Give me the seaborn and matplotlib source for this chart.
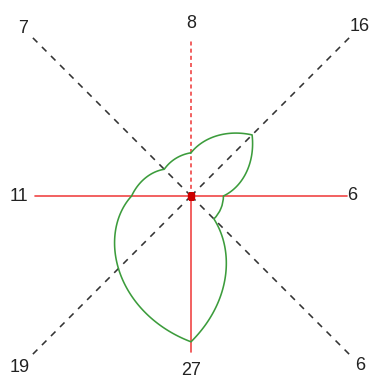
import numpy as np
import pandas as pd
import seaborn as sns
import matplotlib
matplotlib.use('Agg')
import matplotlib.pyplot as plt

sns.set_theme(style='white')
plt.rcParams['font.family'] = ['Liberation Sans', 'DejaVu Sans']

# wind directions, clockwise from north, and the count for each one
directions = ['N', 'NE', 'E', 'SE', 'S', 'SW', 'W', 'NW']
counts = [8, 16, 6, 6, 27, 19, 11, 7]

angles = np.deg2rad(np.arange(0, 360, 45))
df = pd.DataFrame({'theta': np.append(angles, 2 * np.pi),
                   'r': counts + counts[:1]})

red = '#f04646'
green = '#3c9c3c'

fig = plt.figure(figsize=(3.71, 3.81), dpi=100)
scale = 5.4   # pixels per count
half = 180    # half size of the polar box in pixels
ax = fig.add_axes([(191 - half) / 371, (381 - 196 - half) / 381,
                   2 * half / 371, 2 * half / 381], projection='polar')
ax.set_theta_zero_location('N')
ax.set_theta_direction(-1)

arm = 28.9    # length of the N/E/S/W arms
diag = 41.9   # diagonals run to the corners
label_r = {'N': 31.9, 'NE': 44.3, 'E': 29.8, 'SE': 44.3,
           'S': 32.3, 'SW': 44.8, 'W': 31.9, 'NW': 43.9}

for a, d, c in zip(angles, directions, counts):
    if d == 'N':
        ax.plot([a, a], [0, arm], color=red, lw=1.2, ls=(0, (2.4, 1.9)), clip_on=False)
    elif d in ('E', 'S', 'W'):
        ax.plot([a, a], [0, arm], color=red, lw=1.2, clip_on=False)
    else:
        ax.plot([a, a], [0, diag], color='#333333', lw=1.15, ls=(0, (4.0, 4.0)), clip_on=False)
    ax.text(a, label_r[d], str(c), ha='center', va='center', fontsize=13,
            color='#222222', clip_on=False)

sns.lineplot(data=df, x='theta', y='r', sort=False, estimator=None,
             color=green, lw=1.15, ax=ax)
# let the polar transform draw each segment as a spiral (r linear in angle)
ax.lines[-1].get_path()._interpolation_steps = 60

ax.plot(0, 0, marker='s', color='#cc0000', ms=5, zorder=5)

ax.set_rlim(0, half / scale)
ax.axis('off')

fig.savefig('out.png', dpi=100)
